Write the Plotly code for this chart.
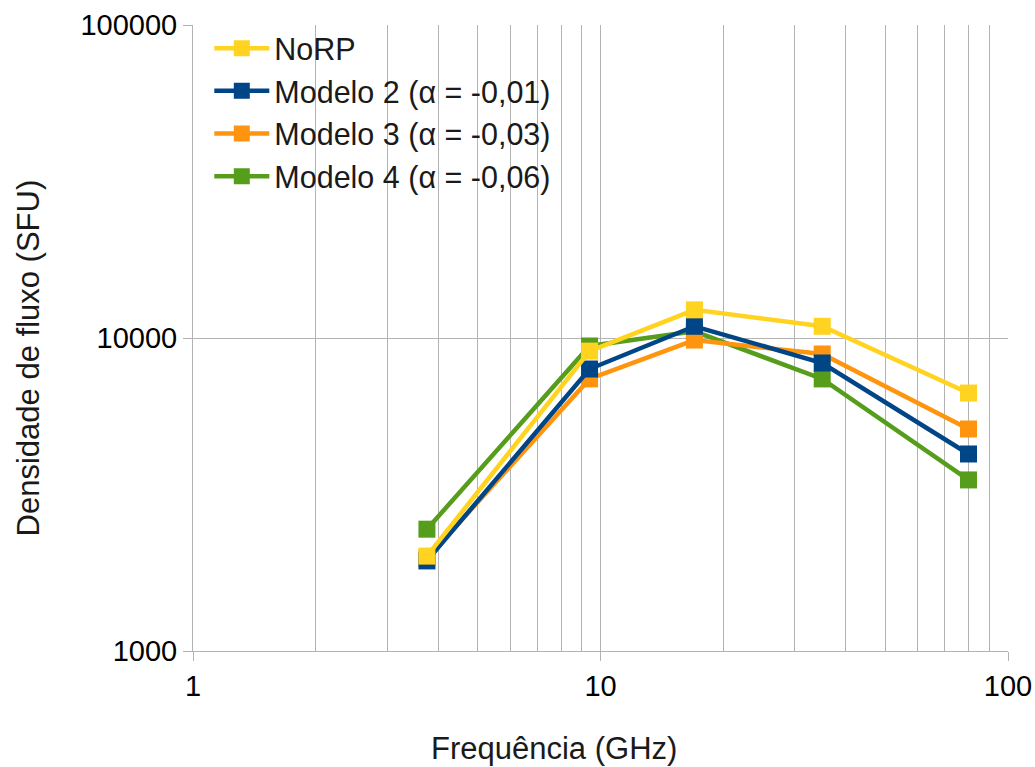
import plotly.graph_objects as go

# ---- data ----
freq_ghz = [3.75, 9.4, 17, 35, 80]
norp = [2010, 9080, 12300, 10900, 6670]
modelo2 = [1940, 7960, 10900, 8320, 4260]
modelo3 = [1980, 7400, 9850, 8890, 5120]
modelo4 = [2450, 9430, 10500, 7400, 3520]

series_names = ["NoRP", "Modelo 2 (α = -0,01)", "Modelo 3 (α = -0,03)", "Modelo 4 (α = -0,06)"]
series_values = [norp, modelo2, modelo3, modelo4]
series_colors = ["#FFD320", "#004586", "#FF950E", "#579D1C"]

x_tick_vals = [1, 10, 100]
x_tick_text = ["1", "10", "100"]
x_minor_vals = [2, 3, 4, 5, 6, 7, 8, 9, 20, 30, 40, 50, 60, 70, 80, 90]
y_tick_vals = [1000, 10000, 100000]
y_tick_text = ["1000", "10000", "100000"]
x_title = "Frequência (GHz)"
y_title = "Densidade de fluxo (SFU)"

FONT = "Liberation Sans, Arial, sans-serif"
GRID = "#b3b3b3"
TXT = "#1a1a1a"

fig = go.Figure()
# draw in reverse so NoRP is on top; legend reversed to keep original order
for name, vals, col in reversed(list(zip(series_names, series_values, series_colors))):
    fig.add_trace(go.Scatter(
        x=freq_ghz, y=vals, name=name, mode="lines+markers",
        line=dict(color=col, width=4.5),
        marker=dict(symbol="square", size=17, color=col),
    ))

fig.update_layout(
    width=1035, height=767,
    margin=dict(l=193, r=27, t=25, b=116),
    paper_bgcolor="white", plot_bgcolor="white",
    font=dict(family=FONT, size=30, color="#000000"),
    showlegend=True,
    legend=dict(
        x=0.02, y=1.005, xanchor="left", yanchor="top",
        bgcolor="rgba(0,0,0,0)", traceorder="reversed",
        font=dict(family=FONT, size=30.5, color=TXT),
        itemwidth=55, tracegroupgap=0,
    ),
    xaxis=dict(
        type="log", range=[0, 2], automargin=False,
        tickvals=x_tick_vals, ticktext=x_tick_text,
        showgrid=True, gridcolor=GRID, gridwidth=1,
        showline=True, linecolor=GRID, linewidth=1,
        ticks="outside", ticklen=9, tickcolor=GRID,
        tickfont=dict(size=29),
        minor=dict(tickvals=x_minor_vals, showgrid=True, gridcolor=GRID, gridwidth=1, ticks=""),
        zeroline=False,
    ),
    yaxis=dict(
        type="log", range=[3, 5], automargin=False,
        tickvals=y_tick_vals, ticktext=y_tick_text,
        showgrid=True, gridcolor=GRID, gridwidth=1,
        showline=True, linecolor=GRID, linewidth=1,
        ticks="outside", ticklen=9, tickcolor=GRID,
        tickfont=dict(size=29),
        zeroline=False,
    ),
    annotations=[
        dict(text=x_title, xref="paper", yref="paper", x=0.443, y=-0.155,
             xanchor="center", yanchor="middle", showarrow=False,
             font=dict(family=FONT, size=31, color=TXT)),
        dict(text=y_title, xref="paper", yref="paper", x=-0.202, y=0.468,
             xanchor="center", yanchor="middle", showarrow=False, textangle=-90,
             font=dict(family=FONT, size=31, color=TXT)),
    ],
)

fig.write_html("out.html")
